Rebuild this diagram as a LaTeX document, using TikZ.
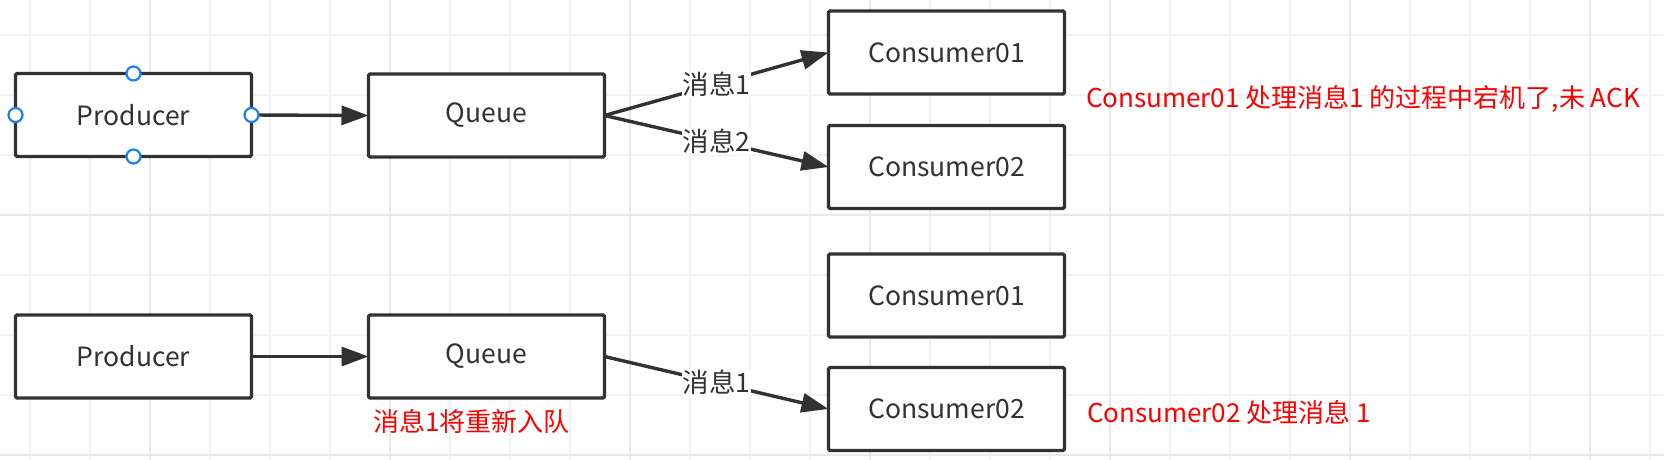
\documentclass[tikz,border=0pt]{standalone}
\usepackage{fontspec}
\setmainfont{Noto Sans CJK SC}
\usetikzlibrary{arrows.meta}
\definecolor{ink}{HTML}{323232}
\definecolor{gridminor}{HTML}{F2F2F2}
\definecolor{gridmajor}{HTML}{E8E8E8}
\definecolor{handle}{HTML}{1E80F0}
\definecolor{note}{HTML}{FF0000}
\tikzset{
  box/.style={draw=ink, line width=3.4pt, rounded corners=1.5pt, fill=white,
    minimum width=236pt, minimum height=83pt, inner sep=0pt, outer sep=0pt,
    text=ink, font=\fontsize{26.5pt}{30pt}\selectfont},
  conn/.style={draw=ink, line width=3.4pt, -{Triangle[length=27pt,width=19pt]}},
  elabel/.style={fill=white, text=ink, inner sep=1pt, font=\fontsize{26.5pt}{30pt}\selectfont},
  notetext/.style={text=note, anchor=west, inner sep=0pt, font=\fontsize{26pt}{30pt}\selectfont},
  hdl/.style={draw=handle, line width=2.2pt, fill=white},
}
\begin{document}
\begin{tikzpicture}[x=1pt,y=-1pt]
\useasboundingbox[fill=white] (0,0) rectangle (1664,460);
% grid
\foreach \gx in {30,90,...,1650} {\draw[gridminor, line width=1.2pt] (\gx,0) -- (\gx,460);}
\foreach \gy in {35,95,...,455} {\draw[gridminor, line width=1.2pt] (0,\gy) -- (1664,\gy);}
\foreach \gx in {150,390,...,1650} {\draw[gridmajor, line width=1.8pt] (\gx,0) -- (\gx,460);}
\foreach \gy in {215,455} {\draw[gridmajor, line width=1.8pt] (0,\gy) -- (1664,\gy);}
% top row
\node[box] (prodA) at (133.5,115) {Producer};
\node[box] (queueA) at (486.5,115.5) {Queue};
\node[box] (consA1) at (946.5,52.5) {Consumer01};
\node[box] (consA2) at (946.5,167) {Consumer02};
\draw[conn] (prodA.east) -- (queueA.west);
\draw[conn] (queueA.east) -- node[elabel] {消息1} (consA1.west);
\draw[conn] (queueA.east) -- node[elabel] {消息2} (consA2.west);
\foreach \a in {north,south,east,west} {\draw[hdl] (prodA.\a) circle (7pt);}
\node[notetext] (noteA) at (1086,99) {Consumer01 处理消息1 的过程中宕机了,未 ACK};
% bottom row
\node[box] (prodB) at (133.5,356.5) {Producer};
\node[box] (queueB) at (486.5,356.5) {Queue};
\node[box] (consB1) at (946.5,295.5) {Consumer01};
\node[box] (consB2) at (946.5,409) {Consumer02};
\draw[conn] (prodB.east) -- (queueB.west);
\draw[conn] (queueB.east) -- node[elabel] {消息1} (consB2.west);
\node[notetext] (noteB) at (1087,412) {Consumer02 处理消息 1};
\node[notetext] (noteC) at (373,422) {消息1将重新入队};
\end{tikzpicture}
\end{document}
